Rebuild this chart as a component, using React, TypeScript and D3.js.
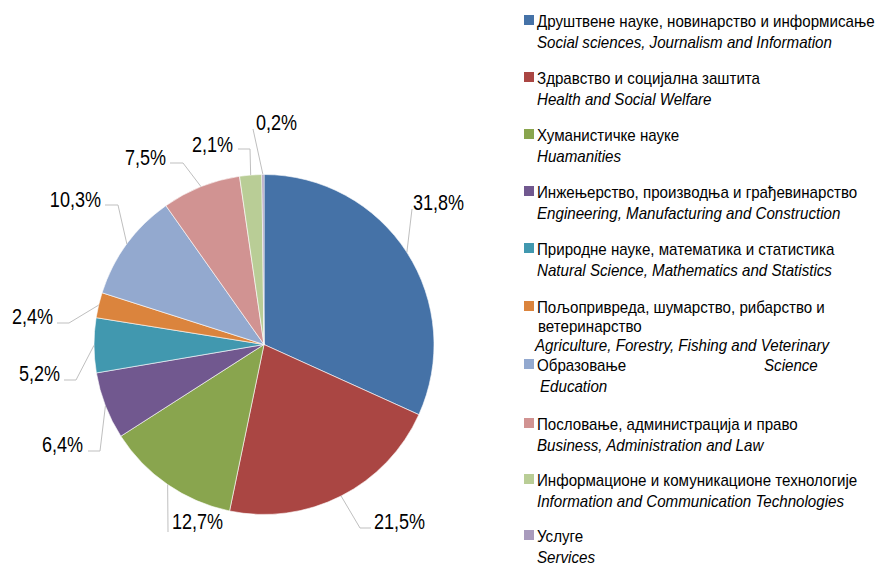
import React from "react";
import * as d3 from "d3";

// ---- data ----
const shares: number[] = [31.8, 21.5, 12.7, 6.4, 5.2, 2.4, 10.3, 7.5, 2.1, 0.2];
const shareLabels: string[] = ["31,8%", "21,5%", "12,7%", "6,4%", "5,2%", "2,4%", "10,3%", "7,5%", "2,1%", "0,2%"];
const namesSr: string[][] = [
  ["Друштвене науке, новинарство и информисање"],
  ["Здравство и социјална заштита"],
  ["Хуманистичке науке"],
  ["Инжењерство, производња и грађевинарство"],
  ["Природне науке, математика и статистика"],
  ["Пољопривреда, шумарство, рибарство и", "ветеринарство"],
  ["Образовање"],
  ["Пословање, администрација и право"],
  ["Информационе и комуникационе технологије"],
  ["Услуге"],
];
const namesEn: string[] = [
  "Social sciences, Journalism and Information",
  "Health and Social Welfare",
  "Huamanities",
  "Engineering, Manufacturing and Construction",
  "Natural Science, Mathematics and Statistics",
  "Agriculture, Forestry, Fishing and Veterinary",
  "Education",
  "Business, Administration and Law",
  "Information and Communication Technologies",
  "Services",
];
const colors: string[] = [
  "#4572A7", "#AA4643", "#89A54E", "#71588F", "#4198AF",
  "#DB843D", "#93A9CF", "#D19392", "#B9CD96", "#A99BBD",
];

// ---- layout (not data) ----
const CX = 264, CY = 344.5, R = 170;
type LabelLayout = { elbow?: [number, number]; end: [number, number]; tx: number; ty: number; anchor: "start" | "end" };
const labelLayout: LabelLayout[] = [
  { end: [412, 209], tx: 413, ty: 210, anchor: "start" },
  { elbow: [360, 528], end: [371, 528], tx: 374, ty: 529, anchor: "start" },
  { end: [168, 532], tx: 172, ty: 529, anchor: "start" },
  { elbow: [100, 451], end: [88, 451], tx: 83, ty: 452, anchor: "end" },
  { elbow: [76, 380], end: [64, 380], tx: 60, ty: 381, anchor: "end" },
  { elbow: [69, 323], end: [57, 323], tx: 53, ty: 324, anchor: "end" },
  { elbow: [118, 205], end: [105, 205], tx: 101, ty: 207, anchor: "end" },
  { elbow: [183, 163], end: [170, 163], tx: 166, ty: 165, anchor: "end" },
  { elbow: [250, 149], end: [238, 149], tx: 233, ty: 152, anchor: "end" },
  { end: [253, 129], tx: 256, ty: 130, anchor: "start" },
];
const legendBaselines: number[] = [27, 84, 141, 198, 255, 313, 371, 430, 486, 542];
const LEG_X = 537;
const FONT = "'Liberation Sans', Arial, sans-serif";
const LEG_SCALE = 0.89;
const LBL_SCALE = 0.82;

function T(props: { x: number; y: number; s: number; size: number; italic?: boolean; anchor?: string; children: React.ReactNode }) {
  return (
    <text
      transform={`translate(${props.x},${props.y}) scale(${props.s},1)`}
      fontSize={props.size}
      fontStyle={props.italic ? "italic" : "normal"}
      textAnchor={props.anchor || "start"}
      fill="#000"
    >
      {props.children}
    </text>
  );
}

export default function App() {
  const pie = d3.pie<number>().sort(null).value((d) => d).startAngle(0).endAngle(2 * Math.PI);
  const arcs = pie(shares);
  const arc = d3.arc<d3.PieArcDatum<number>>().innerRadius(0).outerRadius(R);
  const edge = d3.arc<d3.PieArcDatum<number>>().innerRadius(R).outerRadius(R);

  return (
    <svg width={880} height={566} style={{ position: "absolute", left: 0, top: 0, background: "#fff" }} fontFamily={FONT}>
      <g transform={`translate(${CX},${CY})`}>
        {arcs.map((a, i) => (
          <path key={i} d={arc(a) || ""} fill={colors[i]} stroke="#fff" strokeWidth={0.6} />
        ))}
      </g>
      {arcs.map((a, i) => {
        const [ax, ay] = edge.centroid(a);
        const L = labelLayout[i];
        const pts: [number, number][] = [[CX + ax, CY + ay]];
        if (L.elbow) pts.push(L.elbow);
        pts.push(L.end);
        return (
          <g key={i}>
            <polyline points={pts.map((p) => p.join(",")).join(" ")} fill="none" stroke="#BFBFBF" strokeWidth={1} />
            <T x={L.tx} y={L.ty} s={LBL_SCALE} size={22} anchor={L.anchor}>{shareLabels[i]}</T>
          </g>
        );
      })}
      {namesSr.map((lines, i) => {
        const by = legendBaselines[i];
        const enY = lines.length > 1 ? by + 38 : by + 21;
        const enX = i === 5 ? LEG_X - 2 : i === 6 ? LEG_X + 3 : LEG_X;
        return (
          <g key={i}>
            <rect x={524} y={by - 12} width={10} height={10} fill={colors[i]} />
            {lines.map((ln, j) => (
              <T key={j} x={j === 0 ? LEG_X : LEG_X + 1} y={by + j * 19} s={LEG_SCALE} size={17}>{ln}</T>
            ))}
            <T x={enX} y={enY} s={LEG_SCALE} size={17} italic>{namesEn[i]}</T>
          </g>
        );
      })}
      <T x={764} y={371} s={LEG_SCALE} size={17} italic>Science</T>
    </svg>
  );
}
